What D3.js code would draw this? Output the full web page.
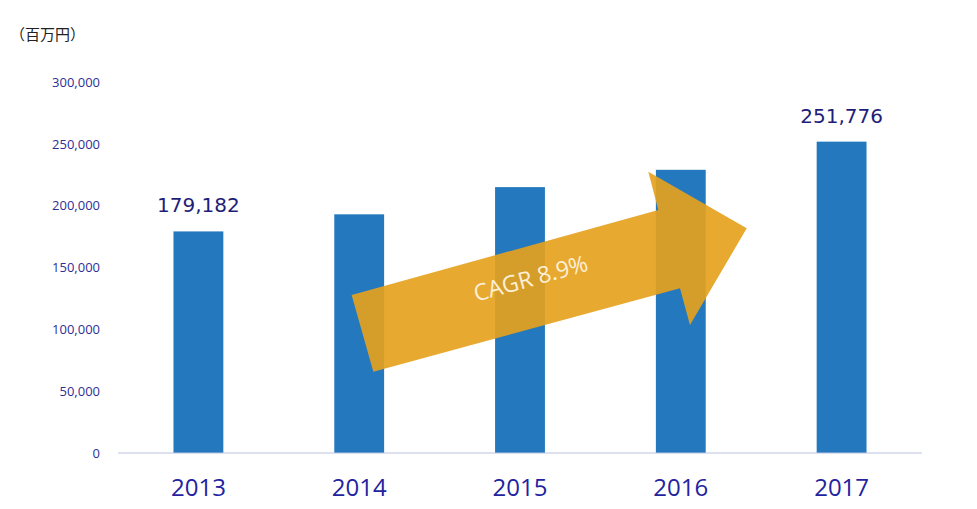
<!DOCTYPE html>
<html>
<head>
<meta charset="utf-8">
<script src="https://cdn.jsdelivr.net/npm/d3@7"></script>
<style>
  body { margin: 0; background: #fff; }
</style>
</head>
<body>
<div id="chart"></div>
<script>
// Chart values
const years = ["2013", "2014", "2015", "2016", "2017"];
const sales = [179182, 193000, 215000, 229000, 251776];
const yTicks = [0, 50000, 100000, 150000, 200000, 250000, 300000];
// Only the first and last bar carry a value label
const labelled = ["2013", "2017"];

// Arrow outline in data units: [bar index offset, value]
const arrowIdx = [0.953, 2.86, 2.798, 3.41, 3.057, 2.995, 1.088];
const arrowVal = [127800, 196500, 227500, 181700, 103500, 133200, 65700];
const cagrText = "CAGR 8.9%";

const width = 977, height = 509;
const margin = {top: 82, right: 55, bottom: 56, left: 118};

let svg = d3.select("#chart").append("svg")
    .attr("width", width)
    .attr("height", height);

// x: band scale for the years
let x = d3.scaleBand()
    .domain(years)
    .range([margin.left, width - margin.right])
    .paddingInner(0.69)
    .paddingOuter(0.345);

let y = d3.scaleLinear()
    .domain([0, 300000])
    .range([height - margin.bottom, margin.top]);

// Unit label
svg.append("text")
    .attr("x", 10)
    .attr("y", 40)
    .style("font-family", "'Noto Sans CJK JP', 'Noto Sans', sans-serif")
    .style("font-size", "15px")
    .style("fill", "#222")
    .text("（百万円）");

// y axis: labels only, no line
let yAxis = d3.axisLeft(y)
    .tickValues(yTicks)
    .tickFormat(d3.format(","))
    .tickSize(0)
    .tickPadding(0);
let yg = svg.append("g")
    .attr("transform", "translate(100,0)")
    .call(yAxis);
yg.select(".domain").remove();
yg.selectAll("text")
    .style("font-family", "'Open Sans', sans-serif")
    .style("font-size", "13px")
    .style("fill", "#2e2e96");

// Bars
svg.selectAll("rect.bar")
    .data(years)
    .enter().append("rect")
    .attr("class", "bar")
    .attr("x", d => x(d))
    .attr("width", x.bandwidth())
    .attr("y", (d, i) => y(sales[i]))
    .attr("height", (d, i) => y(0) - y(sales[i]))
    .style("fill", "#2479be");

// x axis line + year labels
let xAxis = d3.axisBottom(x).tickSize(0).tickPadding(26);
let xg = svg.append("g")
    .attr("transform", "translate(0," + y(0) + ")")
    .call(xAxis);
xg.select(".domain")
    .attr("d", "M" + margin.left + ",0H" + (width - margin.right))
    .style("stroke", "#bcc2e0")
    .style("stroke-width", 1.2);
xg.selectAll("text")
    .style("font-family", "'Open Sans', sans-serif")
    .style("font-size", "24px")
    .style("fill", "#2323a0");

// Value labels over first and last bars
svg.selectAll("text.value")
    .data(years.filter(d => labelled.includes(d)))
    .enter().append("text")
    .attr("class", "value")
    .attr("x", d => x(d) + x.bandwidth() / 2)
    .attr("y", d => y(sales[years.indexOf(d)]) - 19)
    .attr("text-anchor", "middle")
    .style("font-family", "'DejaVu Sans', sans-serif")
    .style("font-size", "20px")
    .style("fill", "#1e1e78")
    .text(d => sales[years.indexOf(d)].toLocaleString("en-US"));

// CAGR arrow, positioned through the scales
let xc = i => x(years[0]) + x.bandwidth() / 2 + i * x.step();
let arrowPts = arrowIdx.map((v, i) => [xc(v), y(arrowVal[i])]);
svg.append("path")
    .attr("d", d3.line()(arrowPts) + "Z")
    .style("fill", "#e5a21d")
    .style("opacity", 0.92);

// Label along the shaft
let p0 = arrowPts[0], p1 = arrowPts[1];
let angle = Math.atan2(p1[1] - p0[1], p1[0] - p0[0]) * 180 / Math.PI;
let tx = xc(2.08), ty = y(135000);
svg.append("text")
    .attr("transform", `translate(${tx},${ty}) rotate(${angle})`)
    .attr("text-anchor", "middle")
    .style("font-family", "'Open Sans', sans-serif")
    .style("font-size", "23px")
    .style("fill", "#fdf0d8")
    .text(cagrText);
</script>
</body>
</html>
